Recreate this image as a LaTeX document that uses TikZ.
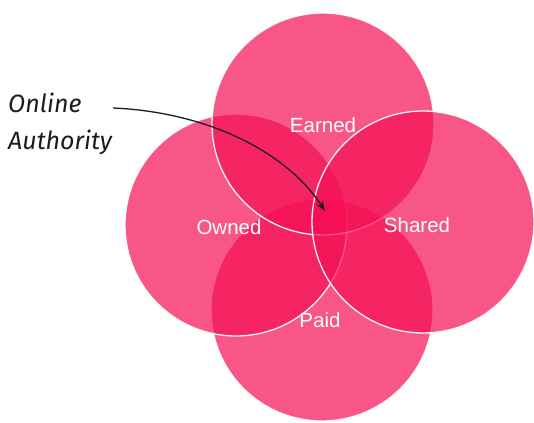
\documentclass[tikz,border=0pt]{standalone}
\usepackage{fontspec}
\setsansfont{Liberation Sans}
\newfontfamily\handfont{Fira Sans}
\usepackage{xcolor}
\usepackage{tikz}
\usetikzlibrary{positioning, arrows.meta}
\definecolor{mediapink}{HTML}{F50F55}
\definecolor{inkblack}{HTML}{1C1C1C}

\tikzset{
  petal/.style={circle, minimum size=222pt, inner sep=0pt,
                fill=mediapink, fill opacity=0.7,
                draw=white, draw opacity=0.95, line width=1.3pt},
  petaltext/.style={text=white, font=\sffamily\fontsize{20.5}{24}\selectfont,
                    inner sep=0pt},
}

\begin{document}
\begin{tikzpicture}[x=1pt, y=-1pt]
    \fill[white] (0,0) rectangle (534,422);
    \useasboundingbox (0,0) rectangle (534,422);

    \node[petal] (paid)   at (322,310) {};
    \node[petal] (owned)  at (236,225) {};
    \node[petal] (earned) at (323,124) {};
    \node[petal] (shared) at (423,222) {};

    \node[petaltext] (earnedtext) at (323,125) {Earned};
    \node[petaltext] (ownedtext)  at (229,227) {Owned};
    \node[petaltext] (sharedtext) at (417,225) {Shared};
    \node[petaltext] (paidtext)   at (320,320) {Paid};

    \node[anchor=north west, inner sep=0pt, align=left, text=inkblack,
          font=\handfont\itshape\fontsize{25}{37}\selectfont]
          (authority) at (8,93) {Online\\Authority};

    \coordinate (tail) at (113,108);
    \coordinate (core) at (325,211);
    \draw[inkblack, line width=1.3pt, -{Stealth[length=10pt, width=7pt]}]
      (tail) .. controls (205,112) and (285,150) .. (core);
\end{tikzpicture}
\end{document}
